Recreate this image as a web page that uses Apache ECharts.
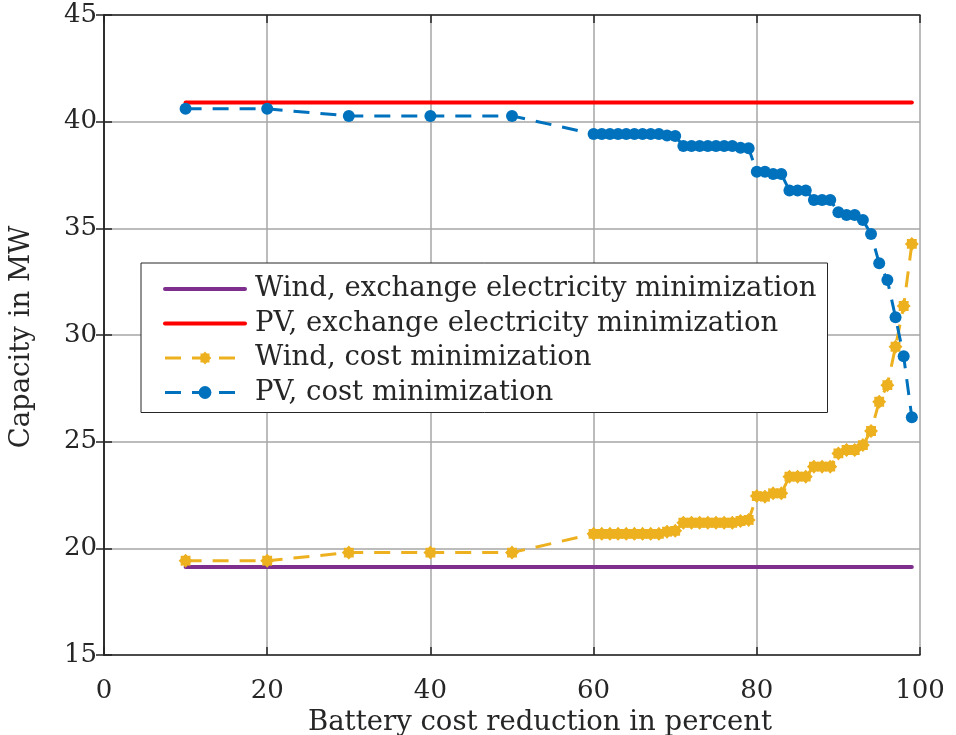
<!DOCTYPE html>
<html>
<head>
<meta charset="utf-8">
<script src="https://cdn.jsdelivr.net/npm/echarts@6/dist/echarts.min.js"></script>
<style>
html,body{margin:0;padding:0;background:#fff;}
#chart{width:956px;height:735px;}
</style>
</head>
<body>
<div id="chart"></div>
<script>
// Battery cost reduction (percent)
var xValues = [10,20,30,40,50,60,61,62,63,64,65,66,67,68,69,70,71,72,73,74,75,76,77,78,79,
  80,81,82,83,84,85,86,87,88,89,90,91,92,93,94,95,96,97,98,99];
var pvCost = [40.6,40.6,40.27,40.27,40.27,
  39.42,39.42,39.42,39.42,39.42,39.42,39.42,39.42,39.42,39.35,39.33,
  38.86,38.86,38.86,38.86,38.86,38.86,38.86,38.78,38.75,
  37.65,37.65,37.55,37.55,36.77,36.77,36.77,36.33,36.33,36.33,
  35.75,35.62,35.62,35.39,34.73,33.36,32.58,30.83,29.0,26.14];
var windCost = [19.42,19.42,19.8,19.8,19.8,
  20.68,20.68,20.68,20.68,20.68,20.68,20.68,20.68,20.68,20.78,20.82,
  21.2,21.2,21.2,21.2,21.2,21.2,21.2,21.28,21.33,
  22.45,22.42,22.58,22.58,23.36,23.36,23.36,23.83,23.83,23.83,
  24.45,24.61,24.61,24.84,25.5,26.87,27.65,29.45,31.36,34.27];
var exchangeX = [10, 99];
var windExchange = [19.12, 19.12];
var pvExchange = [40.9, 40.9];
var seriesNames = ['Wind, exchange electricity minimization','PV, exchange electricity minimization','Wind, cost minimization','PV, cost minimization'];
var xTicks = [0,20,40,60,80,100];
var yTicks = [15,20,25,30,35,40,45];

function pairs(xs, ys){ return xs.map(function(x,i){ return [x, ys[i]]; }); }

var FONT = 'DejaVu Serif';
var TXT = '#262626';
var starPath = 'path://M100,50 L85.1,64.5 L85.36,85.36 L64.5,85.1 L50,100 L35.5,85.1 L14.64,85.36 L14.9,64.5 L0,50 L14.9,35.5 L14.64,14.64 L35.5,14.9 L50,0 L64.5,14.9 L85.36,14.64 L85.1,35.5 Z';

var chart = echarts.init(document.getElementById('chart'), null, {renderer:'canvas'});
var axisLine = {show:true, lineStyle:{color:TXT, width:1.5}};
var tick = {show:true, inside:true, length:8, lineStyle:{color:TXT, width:1.5}};
var split = {show:true, lineStyle:{color:'#a6a6a6', width:1.5}};
chart.setOption({
  animation:false,
  backgroundColor:'#fff',
  grid:{left:104, right:36, top:15, bottom:80, containLabel:false, outerBoundsMode:'none'},
  xAxis:[{
    type:'value', min:xTicks[0], max:xTicks[xTicks.length-1], interval:20,
    name:'Battery cost reduction in percent', nameLocation:'middle', nameGap:47,
    nameTextStyle:{fontFamily:FONT, fontSize:27.5, color:TXT, padding:[0,0,0,56]},
    axisLine:axisLine, axisTick:tick, splitLine:split,
    axisLabel:{fontFamily:FONT, fontSize:26, color:TXT, margin:23}
  },{
    type:'value', position:'top', min:0, max:100, interval:20,
    axisLine:axisLine, axisTick:tick, splitLine:{show:false}, axisLabel:{show:false}
  }],
  yAxis:[{
    type:'value', min:yTicks[0], max:yTicks[yTicks.length-1], interval:5,
    name:'Capacity in MW', nameLocation:'middle', nameGap:68, nameRotate:90,
    nameTextStyle:{fontFamily:FONT, fontSize:27.5, color:TXT, padding:[0,4,0,0]},
    axisLine:axisLine, axisTick:tick, splitLine:split,
    axisLabel:{fontFamily:FONT, fontSize:26, color:TXT, margin:7, padding:[6,0,0,0]}
  },{
    type:'value', position:'right', min:15, max:45, interval:5,
    axisLine:axisLine, axisTick:tick, splitLine:{show:false}, axisLabel:{show:false}
  }],
  legend:{
    orient:'vertical', left:141, top:263,
    padding:[12,11,6,22], itemGap:6.5, itemWidth:80, itemHeight:16,
    backgroundColor:'#fff', borderColor:TXT, borderWidth:1, borderRadius:0,
    lineStyle:{width:'inherit'},
    textStyle:{fontFamily:FONT, fontSize:27.5, color:TXT, padding:[0,0,0,5]},
    data:[
      {name:seriesNames[0], itemStyle:{opacity:0}},
      {name:seriesNames[1], itemStyle:{opacity:0}},
      {name:seriesNames[2]},
      {name:seriesNames[3]}
    ]
  },
  series:[{
    name:seriesNames[0], type:'line', data:pairs(exchangeX, windExchange),
    symbol:'none', lineStyle:{color:'#7E2F8E', width:4, cap:'round'}, itemStyle:{color:'#7E2F8E'}, z:2
  },{
    name:seriesNames[1], type:'line', data:pairs(exchangeX, pvExchange),
    symbol:'none', lineStyle:{color:'#FF0000', width:4, cap:'round'}, itemStyle:{color:'#FF0000'}, z:3
  },{
    name:seriesNames[2], type:'line', data:pairs(xValues, windCost),
    symbol:starPath, symbolSize:14, showSymbol:true,
    lineStyle:{color:'#EDB120', width:3, type:[16,11]}, itemStyle:{color:'#EDB120'}, z:4
  },{
    name:seriesNames[3], type:'line', data:pairs(xValues, pvCost),
    symbol:'circle', symbolSize:12, showSymbol:true,
    lineStyle:{color:'#0072BD', width:3, type:[16,11]}, itemStyle:{color:'#0072BD'}, z:5
  }]
});
</script>
</body>
</html>
